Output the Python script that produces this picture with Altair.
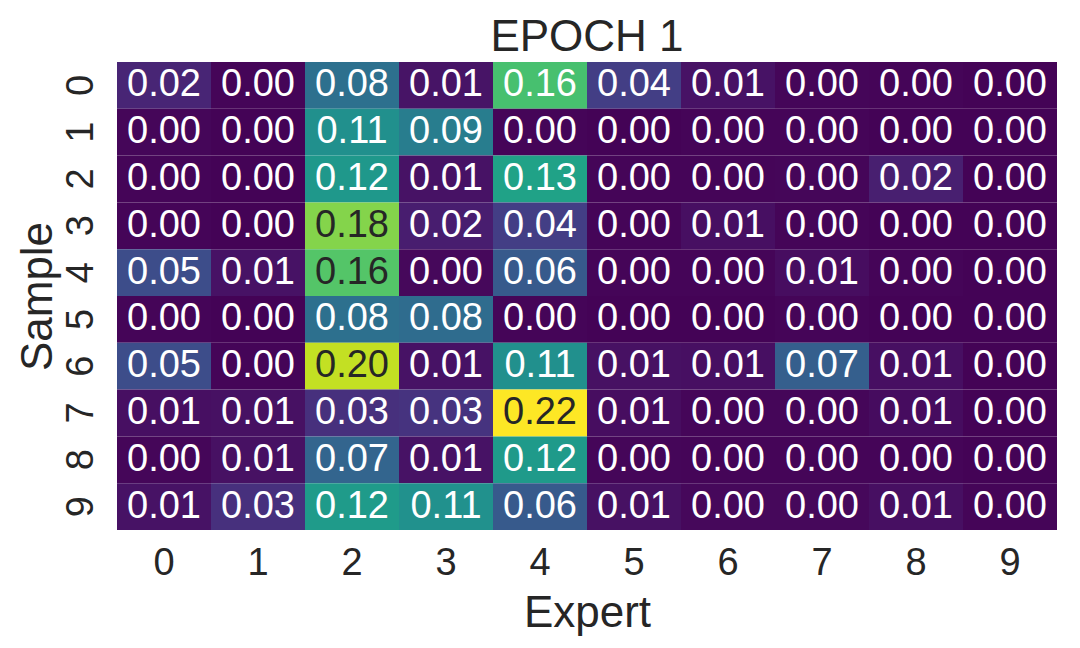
import altair as alt
import pandas as pd

samples = ["0", "1", "2", "3", "4", "5", "6", "7", "8", "9"]
experts = ["0", "1", "2", "3", "4", "5", "6", "7", "8", "9"]

row0 = [0.022, 0.002, 0.081, 0.011, 0.157, 0.040, 0.010, 0.003, 0.002, 0.001]
row1 = [0.003, 0.001, 0.110, 0.093, 0.002, 0.001, 0.002, 0.002, 0.001, 0.001]
row2 = [0.002, 0.001, 0.118, 0.010, 0.128, 0.002, 0.002, 0.003, 0.018, 0.001]
row3 = [0.002, 0.001, 0.181, 0.017, 0.040, 0.002, 0.008, 0.002, 0.001, 0.001]
row4 = [0.051, 0.010, 0.163, 0.004, 0.062, 0.002, 0.002, 0.007, 0.002, 0.001]
row5 = [0.002, 0.001, 0.081, 0.078, 0.002, 0.001, 0.001, 0.002, 0.001, 0.001]
row6 = [0.051, 0.002, 0.202, 0.010, 0.110, 0.009, 0.008, 0.066, 0.008, 0.001]
row7 = [0.008, 0.009, 0.030, 0.032, 0.222, 0.007, 0.003, 0.003, 0.006, 0.001]
row8 = [0.003, 0.009, 0.071, 0.010, 0.120, 0.003, 0.002, 0.002, 0.002, 0.001]
row9 = [0.010, 0.030, 0.121, 0.111, 0.062, 0.009, 0.004, 0.004, 0.008, 0.002]

rows = [row0, row1, row2, row3, row4, row5, row6, row7, row8, row9]

records = []
for i, s in enumerate(samples):
    for j, e in enumerate(experts):
        records.append({"Sample": s, "Expert": e, "v": rows[i][j]})
df = pd.DataFrame(records)

vmax = max(max(r) for r in rows)
font = "Liberation Sans"
dark = "#262626"

base = alt.Chart(df).encode(
    x=alt.X("Expert:O", sort=experts, title="Expert",
            axis=alt.Axis(labelAngle=0, labelFontSize=38, labelPadding=14,
                          titleFontSize=44, titlePadding=9, ticks=False,
                          domain=False, labelColor=dark, titleColor=dark,
                          labelFont=font, titleFont=font, titleFontWeight="normal")),
    y=alt.Y("Sample:O", sort=samples, title="Sample",
            axis=alt.Axis(labelAngle=-90, labelAlign="center", labelBaseline="bottom",
                          labelFontSize=38, labelPadding=17,
                          titleFontSize=44, titlePadding=2, ticks=False,
                          domain=False, labelColor=dark, titleColor=dark,
                          labelFont=font, titleFont=font, titleFontWeight="normal")),
)

rect = base.mark_rect(strokeWidth=0).encode(
    color=alt.Color("v:Q", scale=alt.Scale(scheme="viridis", domain=[0, vmax]), legend=None)
)

text = base.mark_text(fontSize=38, font=font, baseline="middle").encode(
    text=alt.Text("v:Q", format=".2f"),
    color=alt.condition(alt.datum.v > 0.16, alt.value(dark), alt.value("white")),
)

chart = (rect + text).properties(
    width=940, height=468,
    title=alt.TitleParams("EPOCH 1", fontSize=44, font=font, fontWeight="normal",
                          color=dark, offset=2),
    padding={"left": 8, "top": 8, "right": 5, "bottom": 5},
).configure_view(stroke=None).configure_scale(bandPaddingInner=0, bandPaddingOuter=0)

chart.save("out.html", embed_options={"renderer": "svg", "actions": False})
